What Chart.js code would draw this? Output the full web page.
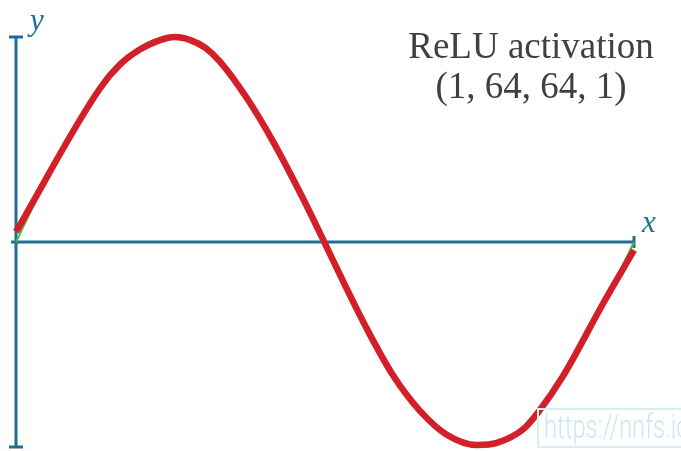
<!DOCTYPE html>
<html>
<head>
<meta charset="utf-8">
<script src="https://cdn.jsdelivr.net/npm/chart.js@4.4.0/dist/chart.umd.min.js"></script>
<style>
  html, body { margin: 0; padding: 0; background: #ffffff; }
  #wrap { position: relative; width: 681px; height: 451px; overflow: hidden; background: #fff; }
  canvas { position: absolute; left: 0; top: 0; }
  .lbl { position: absolute; font-family: "Liberation Serif", serif; font-style: italic; color: #1f6f95; font-size: 31px; line-height: 1; }
  #title { position: absolute; left: 381px; width: 300px; top: 26px; text-align: center; font-family: "Liberation Serif", serif; color: #404040; font-size: 37px; line-height: 40px; }
  #wm { position: absolute; left: 537px; top: 408px; width: 160px; height: 40px; border: 2px solid #d7eef3; box-sizing: border-box; }
  #wmt { position: absolute; left: 544px; top: 406px; font-family: "Roboto", sans-serif; font-weight: 300; font-size: 34px; line-height: 40px; color: #cce8ef; white-space: nowrap; transform: scaleX(0.7); transform-origin: left top; }
</style>
</head>
<body>
<div id="wrap">
  <canvas id="c" width="681" height="451"></canvas>
  <div class="lbl" style="left:30px; top:4px;">y</div>
  <div class="lbl" style="left:642px; top:206px;">x</div>
  <div id="title">ReLU activation<br>(1, 64, 64, 1)</div>
  <div id="wm"></div>
  <div id="wmt">https://nnfs.io</div>
</div>
<script>
// Network output (ReLU activation, 1-64-64-1)
const predX = [0, 0.136, 0.168, 0.201, 0.233, 0.257, 0.282, 0.306, 0.33, 0.374, 0.416, 0.464, 0.498, 0.529, 0.568, 0.610, 0.654, 0.697, 0.746, 0.778, 0.820, 0.845, 0.885, 0.95, 1.0];
const predY = [0.05, 0.75, 0.865, 0.94, 0.985, 1.0, 0.985, 0.948, 0.88, 0.70, 0.49, 0.215, 0.005, -0.19, -0.425, -0.65, -0.825, -0.94, -0.99, -0.98, -0.915, -0.83, -0.655, -0.30, -0.04];

// Target sine (green, mostly hidden under the prediction)
const trueX = [0, 0.05, 0.1, 0.15, 0.2, 0.25, 0.3, 0.35, 0.4, 0.45, 0.5, 0.55, 0.6, 0.65, 0.7, 0.75, 0.8, 0.85, 0.9, 0.95, 1.0];
const trueY = [0, 0.31, 0.59, 0.81, 0.95, 1.0, 0.95, 0.81, 0.59, 0.31, 0, -0.31, -0.59, -0.81, -0.95, -1.0, -0.95, -0.81, -0.59, -0.31, 0];

// Axis extents
const xAxisX = [-0.008, 1];
const yAxisY = [1, -1];

const AXIS = '#1f6f95';

function pts(xs, ys) { return xs.map((x, i) => ({ x: x, y: ys[i] })); }

new Chart(document.getElementById('c'), {
  type: 'line',
  data: {
    datasets: [
      {
        data: pts(predX, predY),
        borderColor: '#d31f27',
        borderWidth: 6.5,
        pointRadius: 0,
        cubicInterpolationMode: 'monotone',
        clip: false,
        order: 0,
        borderCapStyle: 'butt'
      },
      {
        data: pts(trueX, trueY),
        borderColor: '#4cb847',
        borderWidth: 2,
        pointRadius: 0,
        cubicInterpolationMode: 'monotone',
        clip: false,
        order: 1
      },
      {
        data: pts(xAxisX, [0, 0]),
        borderColor: AXIS,
        borderWidth: 3,
        pointRadius: [0, 6],
        pointStyle: 'line',
        pointRotation: 90,
        pointBorderColor: AXIS,
        pointBorderWidth: 3,
        tension: 0,
        clip: false,
        order: 2
      },
      {
        data: pts([0, 0], yAxisY),
        borderColor: AXIS,
        borderWidth: 3,
        pointRadius: 7,
        pointStyle: 'line',
        pointRotation: 0,
        pointBorderColor: AXIS,
        pointBorderWidth: 3,
        tension: 0,
        clip: false,
        order: 2
      }
    ]
  },
  options: {
    responsive: false,
    animation: false,
    events: [],
    layout: { autoPadding: false, padding: { left: 16, right: 47, top: 37, bottom: 4 } },
    scales: {
      x: { type: 'linear', min: 0, max: 1, display: false },
      y: { type: 'linear', min: -1, max: 1, display: false }
    },
    plugins: { legend: { display: false }, tooltip: { enabled: false }, title: { display: false } }
  }
});
</script>
</body>
</html>
